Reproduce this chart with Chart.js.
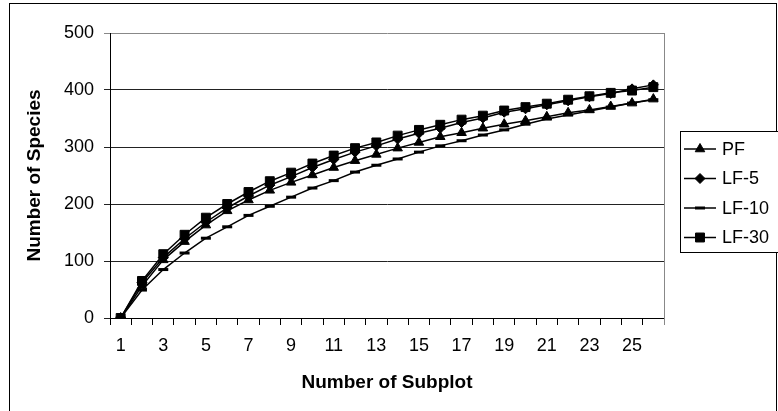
<!DOCTYPE html>
<html lang="en">
<head>
<meta charset="UTF-8">
<title>Number of Species by Number of Subplot</title>
<script src="https://cdn.jsdelivr.net/npm/chart.js"></script>
<style>
  html, body { margin: 0; padding: 0; background: #fff; }
  #wrap { width: 778px; height: 411px; }
</style>
</head>
<body>
<div id="wrap"><canvas id="chart"></canvas></div>
<script>
// values
const subplots = ['1','2','3','4','5','6','7','8','9','10','11','12','13',
                  '14','15','16','17','18','19','20','21','22','23','24','25','26'];
const pf   = [0, 56, 102, 134, 163, 188, 207, 224, 238, 251, 264, 276, 287, 298, 308, 318, 325, 333, 340, 346, 353, 360, 365, 371, 377, 384];
const lf5  = [0, 62, 106, 139, 168, 193, 214, 233, 248, 264, 278, 291, 302, 314, 324, 333, 343, 351, 361, 367, 374, 381, 388, 394, 402, 409];
const lf10 = [0, 49, 85, 114, 140, 160, 180, 196, 212, 228, 241, 256, 268, 279, 291, 302, 311, 321, 330, 340, 349, 356, 363, 370, 377, 383];
const lf30 = [0, 65, 112, 146, 176, 200, 221, 240, 255, 271, 285, 298, 308, 320, 330, 339, 348, 355, 364, 370, 376, 383, 389, 395, 399, 405];
const yTicks = [0, 100, 200, 300, 400, 500];

Chart.defaults.font.family = "'Liberation Sans', Arial, sans-serif";
Chart.defaults.color = '#000';

function series(label, data, style, radius, bw, order) {
    return {
        label: label,
        data: data,
        borderColor: '#000',
        borderWidth: 1.5,
        pointStyle: style,
        pointRadius: radius,
        pointBorderWidth: bw,
        pointBackgroundColor: '#000',
        pointBorderColor: '#000',
        tension: 0,
        order: order
    };
}

// page border + grey right edge of the plot
const frame = {
    id: 'frame',
    beforeDraw(chart) {
        const ctx = chart.ctx;
        ctx.save();
        ctx.strokeStyle = '#000';
        ctx.lineWidth = 1;
        ctx.strokeRect(9.5, 3.5, 767, 500);
        ctx.restore();
    },
    beforeDatasetsDraw(chart) {
        const ctx = chart.ctx, a = chart.chartArea;
        ctx.save();
        ctx.strokeStyle = '#888';
        ctx.lineWidth = 1;
        ctx.beginPath();
        ctx.moveTo(a.right + 0.5, a.top);
        ctx.lineTo(a.right + 0.5, a.bottom + 7);
        ctx.stroke();
        ctx.restore();
    }
};

// boxed legend with line + marker samples
const boxLegend = {
    id: 'boxLegend',
    afterDraw(chart) {
        const ctx = chart.ctx;
        ctx.save();
        ctx.fillStyle = '#fff';
        ctx.fillRect(680, 131, 110, 121);
        ctx.strokeStyle = '#000';
        ctx.lineWidth = 1;
        ctx.strokeRect(680.5, 131.5, 110, 121);
        ctx.font = "18px 'Liberation Sans', Arial, sans-serif";
        ctx.textBaseline = 'middle';
        ctx.textAlign = 'left';
        chart.data.datasets.forEach((ds, i) => {
            const y = 149 + i * 29.5;
            ctx.strokeStyle = '#000';
            ctx.fillStyle = '#000';
            ctx.lineWidth = 1.5;
            ctx.beginPath();
            ctx.moveTo(684, y);
            ctx.lineTo(716, y);
            ctx.stroke();
            ctx.lineWidth = ds.pointBorderWidth;
            Chart.helpers.drawPoint(ctx, {
                pointStyle: ds.pointStyle, radius: ds.pointRadius,
                rotation: 0, borderWidth: ds.pointBorderWidth
            }, 700, y);
            ctx.fillText(ds.label, 722, y + 1);
        });
        ctx.restore();
    }
};

new Chart(document.getElementById('chart'), {
    type: 'line',
    data: {
        labels: subplots,
        datasets: [
            series('PF', pf, 'triangle', 5.5, 1, 3),
            series('LF-5', lf5, 'rectRot', 5, 1, 2),
            series('LF-10', lf10, 'line', 5, 3, 1),
            series('LF-30', lf30, 'rect', 6.3, 1, 0)
        ]
    },
    options: {
        responsive: true,
        maintainAspectRatio: false,
        animation: false,
        layout: { padding: { left: 0, top: 33, right: 114, bottom: 0 } },
        plugins: {
            legend: { display: false },
            tooltip: { enabled: false }
        },
        scales: {
            x: {
                type: 'category',
                offset: true,
                afterFit: s => { s.height = 93; },
                grid: { offset: true, drawOnChartArea: false, tickLength: 7, color: '#000' },
                border: { color: '#000' },
                ticks: {
                    autoSkip: false, maxRotation: 0, padding: 10,
                    font: { size: 18 },
                    callback: (v, i) => (i % 2 === 0 ? subplots[i] : '')
                },
                title: {
                    display: true, text: 'Number of Subplot',
                    font: { size: 19, weight: 'bold' },
                    padding: { top: 0, bottom: 17 }
                }
            },
            y: {
                min: 0, max: 500,
                afterFit: s => { s.width = 110; },
                afterBuildTicks: s => { s.ticks = yTicks.map(v => ({ value: v })); },
                grid: {
                    tickLength: 6,
                    color: c => (c.tick && c.tick.value === 500 ? '#888' : '#222')
                },
                border: { color: '#000' },
                ticks: { padding: 10, font: { size: 18 } },
                title: {
                    display: true, text: 'Number of Species',
                    font: { size: 19, weight: 'bold' },
                    padding: { top: 23, bottom: 0 }
                }
            }
        }
    },
    plugins: [frame, boxLegend]
});
</script>
</body>
</html>
